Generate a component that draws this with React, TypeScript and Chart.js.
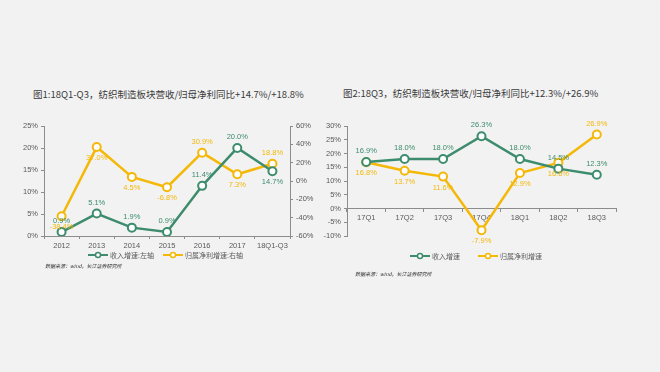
import React, { useEffect, useRef } from "react";
import { Chart, registerables } from "chart.js";

Chart.register(...registerables);

// ---------- data ----------
const years = ["2012", "2013", "2014", "2015", "2016", "2017", "18Q1-Q3"];
const revenueGrowthAnnual = [0.9, 5.1, 1.9, 0.9, 11.4, 20.0, 14.7];
const profitGrowthAnnual = [-38.4, 37.0, 4.5, -6.8, 30.9, 7.3, 18.8];

const quarters = ["17Q1", "17Q2", "17Q3", "17Q4", "18Q1", "18Q2", "18Q3"];
const revenueGrowthQuarter = [16.9, 18.0, 18.0, 26.3, 18.0, 14.5, 12.3];
const profitGrowthQuarter = [16.8, 13.7, 11.6, -7.9, 12.9, 16.6, 26.9];

const title1 = "图1:18Q1-Q3，纺织制造板块营收/归母净利同比+14.7%/+18.8%";
const title2 = "图2:18Q3，纺织制造板块营收/归母净利同比+12.3%/+26.9%";
const legend1 = ["收入增速:左轴", "归属净利增速:右轴"];
const legend2 = ["收入增速", "归属净利增速"];
const sourceText = "数据来源：wind，长江证券研究所";

// label placement (-1 above, 1 below)
const revAnnualPos = [-1, -1, -1, -1, -1, -1, 1];
const profAnnualPos = [1, 1, 1, 1, -1, 1, -1];
const revQuarterPos = [-1, -1, -1, -1, -1, -1, -1];
const profQuarterPos = [1, 1, 1, 1, 1, 1, -1];

const GREEN = "#3d8c6d";
const YELLOW = "#f4b809";
const BG = "#f2f2f2";
const AXIS = "#8c8c8c";
const TICK = "#595959";
const NUMFONT = '"Liberation Sans", Arial, sans-serif';
const CJKFONT = '"Noto Sans CJK SC", "Liberation Sans", sans-serif';

const labelPlugin = {
  id: "pointLabels",
  afterDatasetsDraw(chart: any) {
    const ctx = chart.ctx;
    chart.data.datasets.forEach((ds: any, i: number) => {
      const meta = chart.getDatasetMeta(i);
      meta.data.forEach((pt: any, j: number) => {
        const pos = ds.labelPos[j];
        ctx.save();
        ctx.font = `7.5px ${NUMFONT}`;
        ctx.fillStyle = ds.borderColor;
        ctx.textAlign = "center";
        ctx.textBaseline = "middle";
        ctx.fillText(ds.data[j].toFixed(1) + "%", pt.x, pt.y + pos * 11);
        ctx.restore();
      });
    });
  },
};

function lineDataset(label: string, data: number[], color: string, pos: number[], axis: string) {
  return {
    label,
    data,
    borderColor: color,
    backgroundColor: "#ffffff",
    borderWidth: 2.5,
    pointRadius: 4,
    pointBorderWidth: 2,
    pointBackgroundColor: "#ffffff",
    pointBorderColor: color,
    tension: 0,
    yAxisID: axis,
    labelPos: pos,
  } as any;
}

const tickFont = { family: NUMFONT, size: 7.5 };

function yScale(position: string, min: number, max: number, step: number, width: number) {
  return {
    position,
    min,
    max,
    ticks: {
      stepSize: step,
      color: TICK,
      font: tickFont,
      padding: 3,
      callback: (v: any) => v + "%",
    },
    grid: { display: true, drawOnChartArea: false, drawTicks: true, tickLength: 3, color: AXIS },
    border: { display: true, color: AXIS, width: 1 },
    afterFit: (s: any) => {
      s.width = width;
    },
  } as any;
}

function xScale(extra: any) {
  return {
    offset: true,
    ticks: { color: TICK, font: tickFont, padding: 2, maxRotation: 0, minRotation: 0, autoSkip: false },
    grid: { display: true, offset: true, drawOnChartArea: false, drawTicks: true, tickLength: 3, color: AXIS },
    border: { display: true, color: AXIS, width: 1 },
    ...extra,
  } as any;
}

function AnnualChart() {
  const ref = useRef<HTMLCanvasElement>(null);
  useEffect(() => {
    const chart = new Chart(ref.current!, {
      type: "line",
      data: {
        labels: years,
        datasets: [
          lineDataset(legend1[0], revenueGrowthAnnual, GREEN, revAnnualPos, "y"),
          lineDataset(legend1[1], profitGrowthAnnual, YELLOW, profAnnualPos, "y1"),
        ],
      },
      options: {
        responsive: false,
        animation: false,
        devicePixelRatio: 1,
        layout: { padding: { top: 16, right: 0, left: 0, bottom: 0 } },
        plugins: { legend: { display: false }, tooltip: { enabled: false } },
        scales: {
          x: xScale({
            afterFit: (s: any) => {
              s.height = 24;
            },
          }),
          y: yScale("left", 0, 25, 5, 44),
          y1: yScale("right", -60, 60, 20, 30),
        },
      } as any,
      plugins: [labelPlugin],
    });
    return () => chart.destroy();
  }, []);
  return (
    <canvas
      ref={ref}
      width={320}
      height={150}
      style={{ position: "absolute", left: 0, top: 110, width: 320, height: 150 }}
    />
  );
}

function QuarterChart() {
  const ref = useRef<HTMLCanvasElement>(null);
  useEffect(() => {
    const chart = new Chart(ref.current!, {
      type: "line",
      data: {
        labels: quarters,
        datasets: [
          lineDataset(legend2[0], revenueGrowthQuarter, GREEN, revQuarterPos, "y"),
          lineDataset(legend2[1], profitGrowthQuarter, YELLOW, profQuarterPos, "y"),
        ],
      },
      options: {
        responsive: false,
        animation: false,
        devicePixelRatio: 1,
        layout: { padding: { top: 16, right: 44, left: 0, bottom: 24 } },
        plugins: { legend: { display: false }, tooltip: { enabled: false } },
        scales: {
          x: xScale({ position: { y: 0 } }),
          y: yScale("left", -10, 30, 5, 27),
        },
      } as any,
      plugins: [labelPlugin],
    });
    return () => chart.destroy();
  }, []);
  return (
    <canvas
      ref={ref}
      width={340}
      height={150}
      style={{ position: "absolute", left: 320, top: 110, width: 340, height: 150 }}
    />
  );
}

function LegendIcon({ color }: { color: string }) {
  return (
    <svg width={20} height={8} style={{ display: "inline-block", verticalAlign: "middle", marginRight: 2 }}>
      <line x1={0} y1={4} x2={20} y2={4} stroke={color} strokeWidth={2} />
      <circle cx={10} cy={4} r={2.5} fill="#ffffff" stroke={color} strokeWidth={1.5} />
    </svg>
  );
}

function LegendItem({ color, text, left, top }: { color: string; text: string; left: number; top: number }) {
  return (
    <div
      style={{
        position: "absolute",
        left,
        top,
        height: 10,
        lineHeight: "10px",
        fontFamily: CJKFONT,
        fontSize: 7,
        color: TICK,
        whiteSpace: "nowrap",
        display: "flex",
        alignItems: "center",
      }}
    >
      <LegendIcon color={color} />
      <span>{text}</span>
    </div>
  );
}

function Title({ text, left, top }: { text: string; left: number; top: number }) {
  return (
    <div
      style={{
        position: "absolute",
        left,
        top,
        fontFamily: CJKFONT,
        fontSize: 9.5,
        lineHeight: "12px",
        color: "#3a3a3a",
        whiteSpace: "nowrap",
      }}
    >
      {text}
    </div>
  );
}

function Source({ left, top }: { left: number; top: number }) {
  return (
    <div
      style={{
        position: "absolute",
        left,
        top,
        fontFamily: CJKFONT,
        fontSize: 5,
        lineHeight: "7px",
        fontStyle: "italic",
        color: "#333333",
        whiteSpace: "nowrap",
      }}
    >
      {sourceText}
    </div>
  );
}

export default function App() {
  return (
    <div
      style={{
        position: "absolute",
        left: 0,
        top: 0,
        width: 660,
        height: 372,
        background: BG,
        overflow: "hidden",
      }}
    >
      <Title text={title1} left={33} top={88} />
      <Title text={title2} left={343} top={87} />
      <AnnualChart />
      <QuarterChart />
      <LegendItem color={GREEN} text={legend1[0]} left={88} top={250} />
      <LegendItem color={YELLOW} text={legend1[1]} left={163} top={250} />
      <LegendItem color={GREEN} text={legend2[0]} left={410} top={251} />
      <LegendItem color={YELLOW} text={legend2[1]} left={478} top={251} />
      <Source left={45} top={262} />
      <Source left={355} top={270} />
    </div>
  );
}
